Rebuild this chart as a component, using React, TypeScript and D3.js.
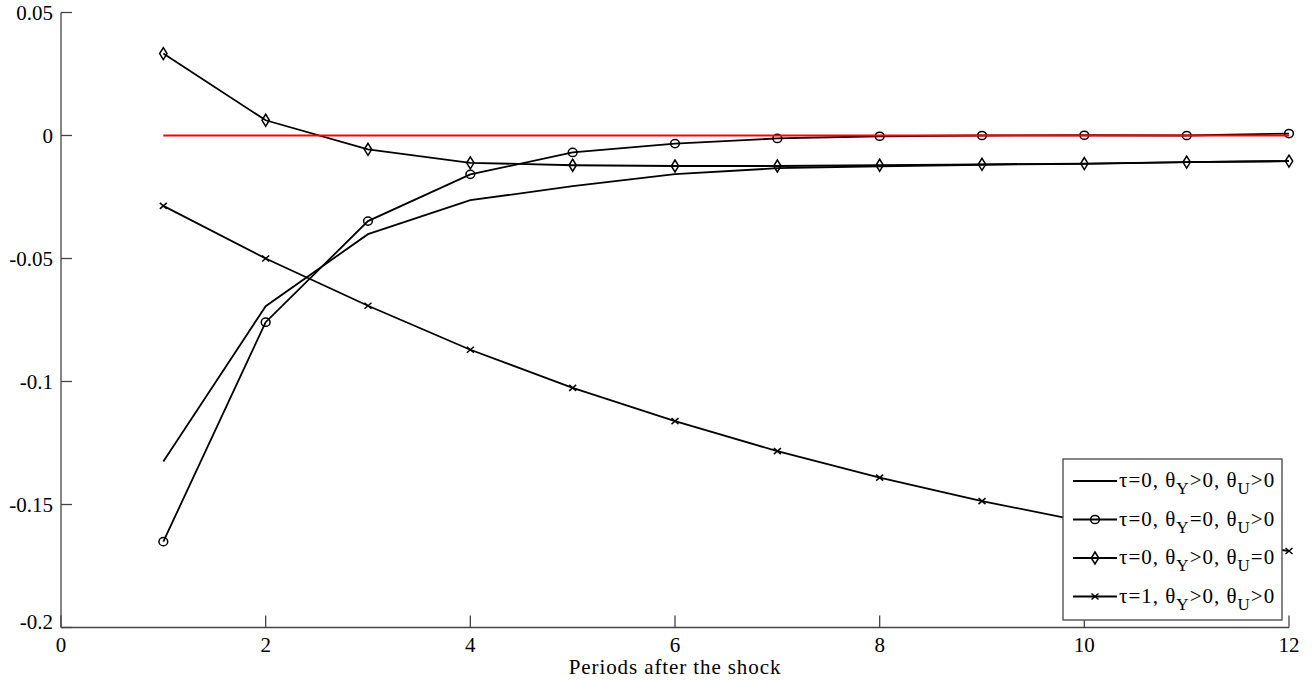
import React from "react";
import * as d3 from "d3";

const periods = [1, 2, 3, 4, 5, 6, 7, 8, 9, 10, 11, 12];
const seriesBase = [-0.1325, -0.0694, -0.0401, -0.0263, -0.0206, -0.0157, -0.0133, -0.0125, -0.0119, -0.0115, -0.0108, -0.0104];
const seriesThetaY0 = [-0.1651, -0.0759, -0.0348, -0.0158, -0.0069, -0.0033, -0.0012, -0.0003, 0.0, 0.0001, 0.0, 0.0008];
const seriesThetaU0 = [0.0333, 0.0062, -0.0056, -0.0111, -0.0121, -0.0124, -0.0124, -0.0121, -0.0117, -0.0114, -0.0108, -0.0104];
const seriesTau1 = [-0.0286, -0.05, -0.0692, -0.0871, -0.1026, -0.1161, -0.1283, -0.1391, -0.1486, -0.157, -0.163, -0.1689];
const zeroLine = [0, 0, 0, 0, 0, 0, 0, 0, 0, 0, 0, 0];

const xTicks = [0, 2, 4, 6, 8, 10, 12];
const yTicks = [0.05, 0, -0.05, -0.1, -0.15, -0.2];
const yTickLabels = ["0.05", "0", "-0.05", "-0.1", "-0.15", "-0.2"];
const xLabel = "Periods after the shock";

type LegendItem = { tau: string; opY: string; opU: string; marker: string };
const legendItems: LegendItem[] = [
  { tau: "0", opY: ">", opU: ">", marker: "none" },
  { tau: "0", opY: "=", opU: ">", marker: "circle" },
  { tau: "0", opY: ">", opU: "=", marker: "diamond" },
  { tau: "1", opY: ">", opU: ">", marker: "cross" },
];

const W = 1312;
const H = 680;
const FONT = '"Liberation Serif"';

function Marker({ type, x, y }: { type: string; x: number; y: number }) {
  if (type === "circle") {
    return <ellipse cx={x} cy={y} rx={4.4} ry={4.1} fill="none" stroke="#000" strokeWidth={1.5} />;
  }
  if (type === "diamond") {
    return (
      <path
        d={`M${x},${y - 6} L${x + 3.7},${y} L${x},${y + 6} L${x - 3.7},${y} Z`}
        fill="none"
        stroke="#000"
        strokeWidth={1.5}
      />
    );
  }
  if (type === "cross") {
    return (
      <path
        d={`M${x - 3.5},${y - 3} L${x + 3.5},${y + 3} M${x - 3.5},${y + 3} L${x + 3.5},${y - 3}`}
        stroke="#000"
        strokeWidth={1.5}
      />
    );
  }
  return null;
}

export default function App() {
  const x = d3.scaleLinear().domain([0, 12]).range([61, 1289]);
  const y = d3.scaleLinear().domain([-0.2, 0.05]).range([627.5, 12.5]);

  const line = d3
    .line<number>()
    .x((_, i) => x(periods[i]))
    .y((d) => y(d));

  const series = [
    { data: seriesBase, marker: "none" },
    { data: seriesThetaY0, marker: "circle" },
    { data: seriesThetaU0, marker: "diamond" },
    { data: seriesTau1, marker: "cross" },
  ];

  const axisColor = "#444";
  const x0 = x(0);
  const y0 = y(-0.2);

  const lgX = 1063;
  const lgY = 459;
  const lgW = 219;
  const lgH = 161;
  const rowY = [481, 519.5, 558, 596.5];
  const textStyle = { fontFamily: FONT };

  return (
    <svg width={W} height={H} style={{ position: "absolute", left: 0, top: 0, background: "#fff" }}>
      <rect x={0} y={0} width={W} height={H} fill="#fff" />
      <line x1={x0} y1={y(0.05)} x2={x0} y2={y0} stroke={axisColor} strokeWidth={1.3} />
      <line x1={x0} y1={y0} x2={x(12)} y2={y0} stroke={axisColor} strokeWidth={1.3} />
      {yTicks.map((t, i) => (
        <g key={"yt" + i}>
          <line x1={x0} x2={x0 + 11} y1={y(t)} y2={y(t)} stroke={axisColor} strokeWidth={1.3} />
          <text
            x={53}
            y={y(t) + (t === -0.2 ? -6 : 0) + 7}
            textAnchor="end"
            fontSize={21}
            fill="#000"
            style={textStyle}
          >
            {yTickLabels[i]}
          </text>
        </g>
      ))}
      {xTicks.map((t) => (
        <g key={"xt" + t}>
          <line x1={x(t)} x2={x(t)} y1={y0} y2={y0 - 12} stroke={axisColor} strokeWidth={1.3} />
          <text x={x(t)} y={652} textAnchor="middle" fontSize={21} fill="#000" style={textStyle}>
            {t}
          </text>
        </g>
      ))}
      <text
        x={(x(0) + x(12)) / 2}
        y={674}
        textAnchor="middle"
        fontSize={21}
        letterSpacing={0.9}
        fill="#000"
        style={textStyle}
      >
        {xLabel}
      </text>

      {series.map((s, si) => (
        <g key={"s" + si}>
          <path d={line(s.data) || ""} fill="none" stroke="#000" strokeWidth={1.8} />
          {s.data.map((v, i) => (
            <Marker key={i} type={s.marker} x={x(periods[i])} y={y(v)} />
          ))}
        </g>
      ))}
      <path d={line(zeroLine) || ""} fill="none" stroke="#ff0000" strokeWidth={2.2} />

      <rect x={lgX} y={lgY} width={lgW} height={lgH} fill="#fff" stroke={axisColor} strokeWidth={1.3} />
      {legendItems.map((it, i) => (
        <g key={"lg" + i}>
          <line x1={1073} x2={1117} y1={rowY[i]} y2={rowY[i]} stroke="#000" strokeWidth={1.8} />
          <Marker type={it.marker} x={1095} y={rowY[i]} />
          <text x={1119} y={rowY[i] + 6} fontSize={21} letterSpacing={1} fill="#000" style={textStyle}>
            <tspan>{"τ=" + it.tau + ", θ"}</tspan>
            <tspan dy={7} fontSize={17}>Y</tspan>
            <tspan dy={-7}>{it.opY + "0, θ"}</tspan>
            <tspan dy={7} fontSize={17}>U</tspan>
            <tspan dy={-7}>{it.opU + "0"}</tspan>
          </text>
        </g>
      ))}
    </svg>
  );
}
